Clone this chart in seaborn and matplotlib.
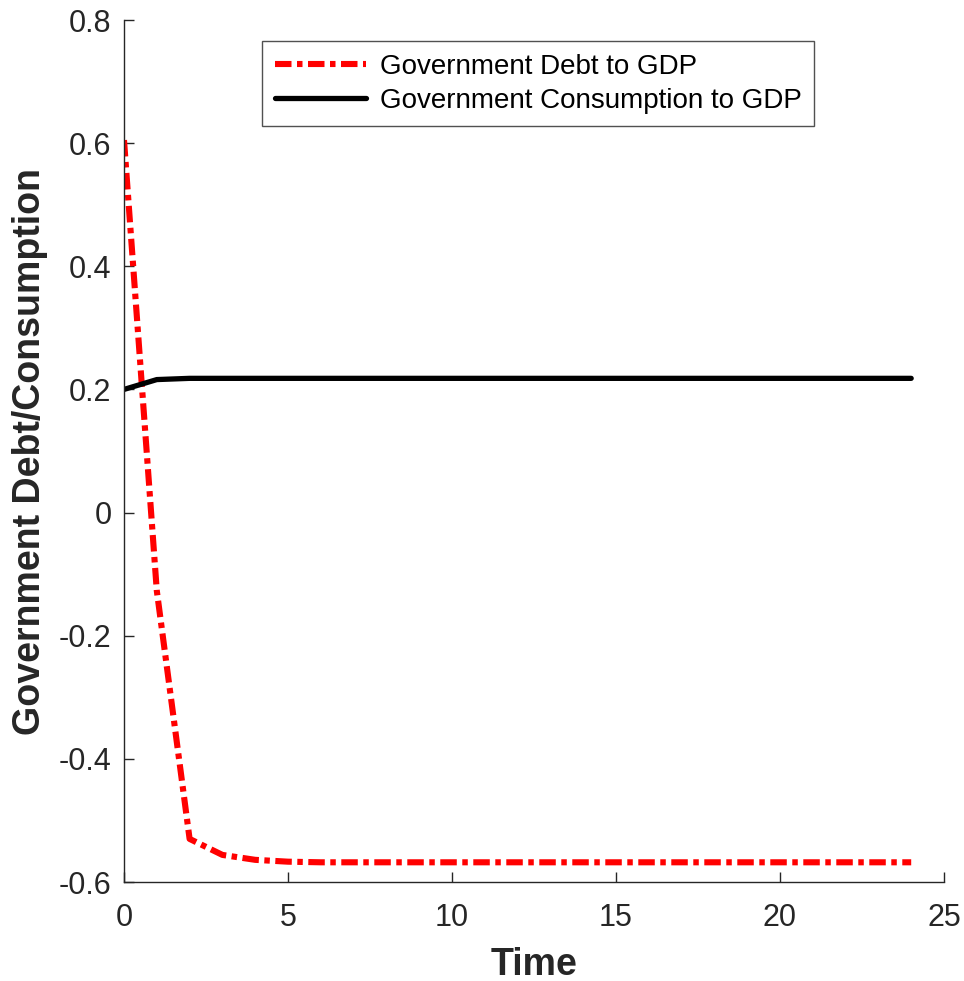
import numpy as np
import matplotlib
matplotlib.use("Agg")
import matplotlib.pyplot as plt
import pandas as pd
import seaborn as sns

# data
time = list(range(0, 25))
debt_gdp = [0.605, -0.127, -0.530, -0.556, -0.564, -0.567, -0.568, -0.568, -0.568, -0.568,
            -0.568, -0.568, -0.568, -0.568, -0.568, -0.568, -0.568, -0.568, -0.568, -0.568,
            -0.568, -0.568, -0.568, -0.568, -0.568]
cons_gdp = [0.200, 0.216, 0.218, 0.218, 0.218, 0.218, 0.218, 0.218, 0.218, 0.218,
            0.218, 0.218, 0.218, 0.218, 0.218, 0.218, 0.218, 0.218, 0.218, 0.218,
            0.218, 0.218, 0.218, 0.218, 0.218]
xticks = [0, 5, 10, 15, 20, 25]
yticks = [-0.6, -0.4, -0.2, 0, 0.2, 0.4, 0.6, 0.8]
ytick_labels = ['-0.6', '-0.4', '-0.2', '0', '0.2', '0.4', '0.6', '0.8']

sns.set_style("white")
plt.rcParams['font.family'] = ['Liberation Sans', 'DejaVu Sans']
plt.rcParams['axes.unicode_minus'] = False

df = pd.DataFrame({'Time': time, 'debt': debt_gdp, 'cons': cons_gdp})

fig = plt.figure(figsize=(9.64, 9.81), dpi=100)
ax = fig.add_axes([124/964, 1-882/981, (944-124)/964, (882-20)/981])

sns.lineplot(data=df, x='Time', y='debt', ax=ax, color='red', linewidth=4.4,
             dashes=False, label='Government Debt to GDP')
sns.lineplot(data=df, x='Time', y='cons', ax=ax, color='black', linewidth=3.8,
             label='Government Consumption to GDP')
ax.lines[0].set_dashes((2.7, 0.9, 0.9, 0.9))
ax.lines[0].set_dash_capstyle('butt')

ax.set_xlim(0, 25)
ax.set_ylim(-0.6, 0.8)
ax.set_xticks(xticks)
ax.set_xticklabels([str(t) for t in xticks])
ax.set_yticks(yticks)
ax.set_yticklabels(ytick_labels)

for s in ['top', 'right']:
    ax.spines[s].set_visible(False)
for s in ['left', 'bottom']:
    ax.spines[s].set_color('#262626')
    ax.spines[s].set_linewidth(1.0)
ax.tick_params(direction='in', length=7, width=1.0, color='#262626',
               labelsize=22, labelcolor='#262626', left=True, bottom=True)
ax.tick_params(axis='x', pad=15)
ax.tick_params(axis='y', pad=9)

ax.set_xlabel('Time', fontsize=27, fontweight='bold', color='#262626', labelpad=10)
ax.set_ylabel('Government Debt/Consumption', fontsize=27, fontweight='bold',
              color='#262626', labelpad=8)

leg = ax.legend(loc='upper left', bbox_to_anchor=((262-124)/820, (882-41)/862),
                fontsize=20, frameon=True, fancybox=False, handlelength=3.3,
                borderpad=0.45, labelspacing=0.3, handletextpad=0.5,
                borderaxespad=0)
leg.get_frame().set_edgecolor('#262626')
leg.get_frame().set_linewidth(1.0)
for t in leg.get_texts():
    t.set_color('black')

fig.savefig('out.png', dpi=100)
